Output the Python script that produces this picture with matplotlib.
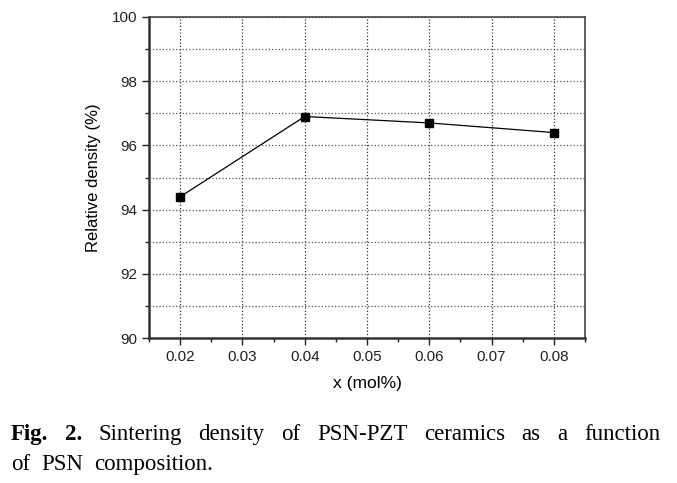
import matplotlib
matplotlib.use("Agg")
import matplotlib.pyplot as plt
from matplotlib.ticker import MultipleLocator

x_vals = [0.02, 0.04, 0.06, 0.08]
density = [94.4, 96.9, 96.7, 96.4]
xlabel = "x (mol%)"
ylabel = "Relative density (%)"
caption1 = [("Fig.", "bold"), ("2.", "bold"), ("Sintering", "normal"), ("density", "normal"),
            ("of", "normal"), ("PSN-PZT", "normal"), ("ceramics", "normal"), ("as", "normal"),
            ("a", "normal"), ("function", "normal")]
caption2 = [("of", "normal"), ("PSN", "normal"), ("composition.", "normal")]

W, H = 677, 483
fig = plt.figure(figsize=(W/100, H/100), dpi=100)
ax = fig.add_axes([149/W, 1-338/H, (585-149)/W, (338-17)/H])
plt.rcParams['font.family'] = ['Liberation Sans', 'DejaVu Sans']

ax.plot(x_vals, density, color='black', lw=0.9, marker='s', ms=6, mfc='black', mec='black')
ax.set_xlim(0.015, 0.085)
ax.set_ylim(90, 100)
ax.xaxis.set_minor_locator(MultipleLocator(0.005))
ax.yaxis.set_minor_locator(MultipleLocator(1))
ax.set_xticks([0.02, 0.03, 0.04, 0.05, 0.06, 0.07, 0.08])
ax.set_xticklabels(["0.02", "0.03", "0.04", "0.05", "0.06", "0.07", "0.08"], family='Liberation Sans')
ax.set_yticks([90, 92, 94, 96, 98, 100])
ax.set_yticklabels(["90", "92", "94", "96", "98", "100"], family='Liberation Sans')
ax.tick_params(axis='both', which='major', direction='out', length=5, width=1, labelsize=11, colors='#222')
ax.tick_params(axis='both', which='minor', direction='out', length=3, width=1, colors='#222')
ax.grid(True, which='major', axis='x', linestyle=':', color='#333', lw=0.9)
ax.grid(True, which='both', axis='y', linestyle=':', color='#555', lw=0.9)
ax.set_axisbelow(True)
for s in ['left', 'bottom']:
    ax.spines[s].set_linewidth(1.8)
    ax.spines[s].set_color('#333')
for s in ['top', 'right']:
    ax.spines[s].set_linewidth(1.2)
    ax.spines[s].set_color('#444')
ax.set_xlabel(xlabel, fontsize=12.5, family='Liberation Sans', labelpad=9)
ax.set_ylabel(ylabel, fontsize=12, family='Liberation Sans', labelpad=8)

fig.canvas.draw()
r = fig.canvas.get_renderer()
def place_line(words, y_px, x0, x1, justify):
    texts = []
    for w, wt in words:
        t = fig.text(0, 1 - y_px/H, w, fontsize=16.5, family='Liberation Serif', weight=wt, va='baseline')
        texts.append(t)
    widths = [t.get_window_extent(r).width for t in texts]
    if justify:
        gap = (x1 - x0 - sum(widths)) / (len(words) - 1)
    else:
        gap = 11
    x = x0
    for t, wd in zip(texts, widths):
        t.set_x(x / W)
        x += wd + gap
place_line(caption1, 440, 11, 660, True)
place_line(caption2, 470, 11, 660, False)

fig.savefig("out.png", dpi=100)
